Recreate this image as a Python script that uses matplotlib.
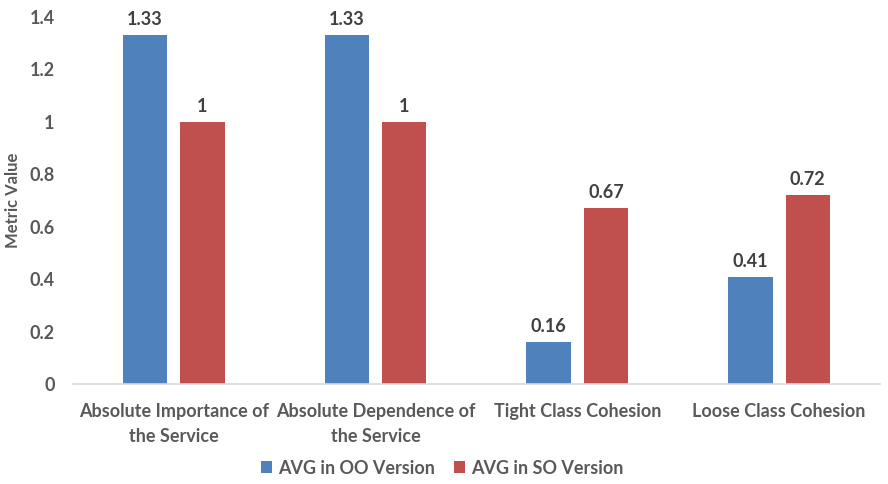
import matplotlib
matplotlib.use("Agg")
import matplotlib.pyplot as plt
import numpy as np

categories = ["Absolute Importance of\nthe Service", "Absolute Dependence of\nthe Service",
              "Tight Class Cohesion", "Loose Class Cohesion"]
oo_values = [1.33, 1.33, 0.16, 0.41]
so_values = [1.0, 1.0, 0.67, 0.72]
oo_labels = ["1.33", "1.33", "0.16", "0.41"]
so_labels = ["1", "1", "0.67", "0.72"]
series_names = ["AVG in OO Version", "AVG in SO Version"]
y_ticks = [0, 0.2, 0.4, 0.6, 0.8, 1.0, 1.2, 1.4]
y_tick_labels = ["0", "0.2", "0.4", "0.6", "0.8", "1", "1.2", "1.4"]

plt.rcParams['font.family'] = ['Lato', 'DejaVu Sans']
plt.rcParams['font.weight'] = 'bold'
text_color = "#595959"
blue = "#4F81BD"
red = "#C0504D"
fs = 13

fig = plt.figure(figsize=(8.88, 4.84), dpi=100)
ax = fig.add_axes([0.082, 0.2066, 0.909, 0.7584])

x = np.arange(len(categories))
w = 0.22
off = 0.142
b1 = ax.bar(x - off, oo_values, w, color=blue, label=series_names[0])
b2 = ax.bar(x + off, so_values, w, color=red, label=series_names[1])

for rects, labs in ((b1, oo_labels), (b2, so_labels)):
    for r, lab in zip(rects, labs):
        ax.annotate(lab, (r.get_x() + r.get_width() / 2, r.get_height()),
                    xytext=(0, 5), textcoords="offset points", ha="center", va="bottom",
                    fontsize=fs, fontweight="bold", color="#404040")

ax.set_xlim(-0.5, len(categories) - 0.5)
ax.set_ylim(0, 1.4)
ax.set_yticks(y_ticks)
ax.set_yticklabels(y_tick_labels)
ax.set_xticks(x)
ax.set_xticklabels(categories, linespacing=1.55)
ax.tick_params(axis="both", length=0, labelsize=fs, colors=text_color)
ax.tick_params(axis="y", pad=13)
ax.tick_params(axis="x", pad=14)
for lab in ax.get_xticklabels() + ax.get_yticklabels():
    lab.set_fontweight("bold")

for s in ["top", "right", "left"]:
    ax.spines[s].set_visible(False)
ax.spines["bottom"].set_color("#D9D9D9")
ax.spines["bottom"].set_linewidth(1.2)

ax.set_ylabel("Metric Value", fontsize=12, fontweight="bold", color=text_color)
ax.yaxis.set_label_coords(-0.064, 0.5)

leg = fig.legend(handles=[b1, b2], labels=series_names, loc="center", bbox_to_anchor=(0.498, 0.033),
                 ncol=2, frameon=False, fontsize=fs, handlelength=0.65, handleheight=0.65,
                 handletextpad=0.35, columnspacing=1.0)
for t in leg.get_texts():
    t.set_color(text_color)
    t.set_fontweight("bold")

fig.savefig("out.png", dpi=100)
